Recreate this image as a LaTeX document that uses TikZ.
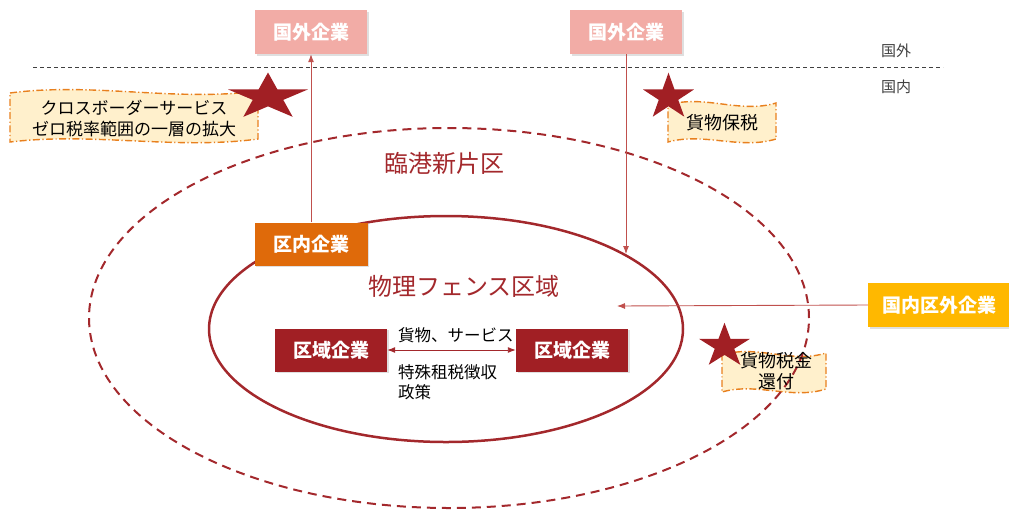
\documentclass[tikz,border=0pt]{standalone}
\usepackage{fontspec}
\setmainfont{Noto Sans CJK JP}
\usetikzlibrary{arrows.meta,shadows}
\definecolor{pinkbox}{HTML}{F2ACA6}
\definecolor{orangebox}{HTML}{DF6A0A}
\definecolor{redbox}{HTML}{A11F24}
\definecolor{yellowbox}{HTML}{FFB800}
\definecolor{cream}{HTML}{FFF0CC}
\definecolor{bannerline}{HTML}{E8801E}
\definecolor{ringred}{HTML}{A3282C}
\definecolor{thinred}{HTML}{C0504D}
\definecolor{labelgray}{HTML}{404040}
\tikzset{
  firm/.style={text=white, font=\fontsize{19}{22}\selectfont\bfseries, inner sep=0pt,
    drop shadow={shadow xshift=1.5pt, shadow yshift=-1.5pt, opacity=0.25}},
  bodytext/.style={text=black, font=\fontsize{16.5}{20}\selectfont, inner sep=0pt},
  zonetext/.style={text=ringred, font=\fontsize{24}{28}\selectfont, inner sep=0pt},
  thinarrow/.style={draw=thinred, line width=0.9pt, -{Latex[length=8pt,width=6pt]}},
  bannerbox/.style={fill=cream, draw=bannerline, line width=1.4pt,
    dash pattern=on 7pt off 2.5pt on 1.2pt off 2.5pt},
  starfill/.style={fill=redbox}
}
\newcommand{\mybanner}[4]{% x1 y1 x2 y2
  \path[bannerbox] (#1,#2+3) .. controls ({#1+(#3-#1)/3},#2-8) and ({#1+2*(#3-#1)/3},#2+12) .. (#3,#2+1)
    -- (#3,#4-3) .. controls ({#1+2*(#3-#1)/3},#4+8) and ({#1+(#3-#1)/3},#4-10) .. (#1,#4) -- cycle;}
\newcommand{\mystar}[4]{% cx cy rx ry
  \fill[starfill,shift={(#1,#2)},xscale=#3,yscale=#4]
    (-90:1) -- (-54:0.382) -- (-18:1) -- (18:0.382) -- (54:1) -- (90:0.382)
    -- (126:1) -- (162:0.382) -- (198:1) -- (234:0.382) -- cycle;}
\begin{document}
\begin{tikzpicture}[x=1pt,y=-1pt]
\useasboundingbox (0,0) rectangle (1009,512);
\clip (0,0) rectangle (1009,512);

% border line between abroad and domestic
\draw[labelgray, line width=0.8pt, dash pattern=on 4pt off 3pt] (33,67) -- (943,67);
\node[text=labelgray, font=\fontsize{15}{18}\selectfont, inner sep=0pt] (abroad) at (896,51) {国外};
\node[text=labelgray, font=\fontsize{15}{18}\selectfont, inner sep=0pt] (domestic) at (896,87) {国内};

% banners
\mybanner{10}{90}{258}{142}
\mybanner{668}{102}{776}{142}
\mybanner{722}{352}{826}{392}

% zones
\draw[ringred, line width=2pt, dash pattern=on 9pt off 6pt] (449,318) ellipse [x radius=360pt, y radius=190pt];
\draw[ringred, line width=2.5pt] (446,329) ellipse [x radius=237pt, y radius=113pt];
\node[zonetext] (lingang) at (444,163) {臨港新片区};
\node[zonetext] (fence) at (464,286) {物理フェンス区域};

% stars
\mystar{268}{97}{42}{24.5}
\mystar{668.5}{97}{26.8}{24.3}
\mystar{724.5}{346}{26.8}{23.2}

% banner texts
\node[bodytext, align=center, font=\fontsize{17}{21}\selectfont] (t1) at (134,119) {クロスボーダーサービス\\ゼロ税率範囲の一層の拡大};
\node[bodytext, font=\fontsize{18}{20}\selectfont] (t2) at (722,123) {貨物保税};
\node[bodytext, align=center, font=\fontsize{18}{21}\selectfont] (t3) at (776,371) {貨物税金\\還付};

% firms
\node[firm, fill=pinkbox, minimum width=112pt, minimum height=44pt] (fA) at (311,32) {国外企業};
\node[firm, fill=pinkbox, minimum width=112pt, minimum height=44pt] (fB) at (626,32) {国外企業};
\node[firm, fill=orangebox, minimum width=113pt, minimum height=43pt] (inner) at (311,244) {区内企業};
\node[firm, fill=redbox, minimum width=112pt, minimum height=43pt] (zL) at (331,350) {区域企業};
\node[firm, fill=redbox, minimum width=112pt, minimum height=43pt] (zR) at (572,350) {区域企業};
\node[firm, fill=yellowbox, minimum width=142pt, minimum height=44pt] (dom) at (939,305) {国内区外企業};

% connectors
\coordinate (ringTop) at (626,254);
\coordinate (ringRight) at (617,306);
\draw[thinarrow] (inner.north) -- (fA.south);
\draw[thinarrow] (fB.south) -- (ringTop);
\draw[thinarrow] (dom.west) -- (ringRight);
\draw[draw=ringred, line width=0.9pt, {Latex[length=8pt,width=6pt]}-{Latex[length=8pt,width=6pt]}] (zL.east) -- (zR.west);

\node[bodytext, anchor=west] (goods) at (398,335) {貨物、サービス};
\node[bodytext, anchor=north west, align=left, font=\fontsize{16.5}{20}\selectfont] (tax) at (398,364) {特殊租税徴収\\政策};
\end{tikzpicture}
\end{document}
